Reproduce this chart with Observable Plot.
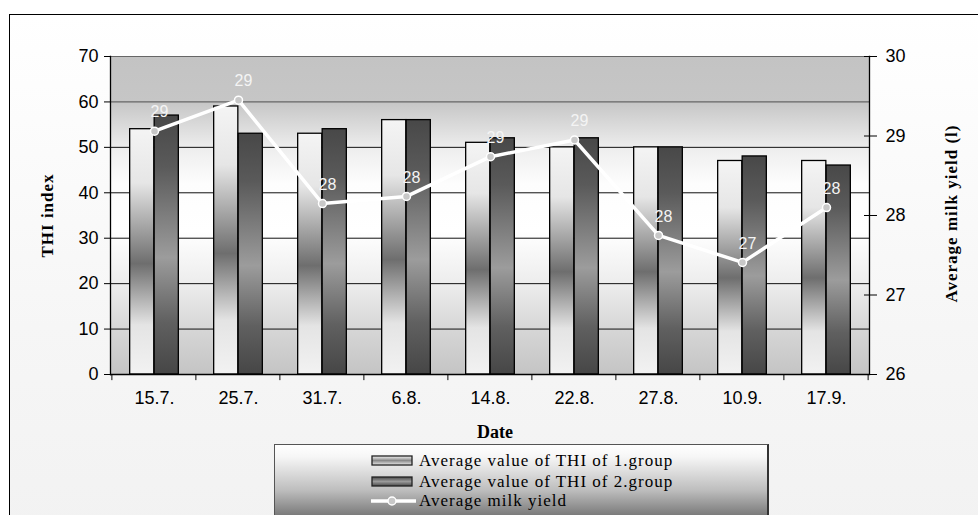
<!DOCTYPE html>
<html>
<head>
<meta charset="utf-8">
<script src="https://cdn.jsdelivr.net/npm/d3@7"></script>
<script src="https://cdn.jsdelivr.net/npm/@observablehq/plot@0.6"></script>
<style>
  html, body { margin: 0; padding: 0; background: #fff; }
  #wrap { position: relative; width: 978px; height: 515px; overflow: hidden; }
  #outer { position: absolute; left: 9px; top: 14px; width: 990px; height: 520px;
           border: 1px solid #000; background: linear-gradient(to bottom, #ffffff 0%, #f6f6f6 60%, #f2f2f2 100%); }
  #chart { position: absolute; left: 0; top: 0; }
  #legend { position: absolute; left: 274px; top: 444px; width: 492px; height: 90px;
            border: 1px solid #555; border-right: 2px solid #333;
            background: linear-gradient(to bottom, #ffffff 0px, #f6f6f6 12px, #bebebe 45px, #787878 71px, #666 90px);
            font-family: "Liberation Serif", "Times New Roman", serif; font-size: 17px; letter-spacing: 1px; color: #000; }
  .row { position: absolute; left: 96px; height: 20px; display: flex; align-items: center; white-space: nowrap; }
  .row svg { margin-right: 4px; }
</style>
</head>
<body>
<div id="wrap">
  <div id="outer"></div>
  <div id="chart"></div>
  <div id="legend">
    <div class="row" style="top:6px"><svg width="44" height="12"><rect x="1" y="1" width="40" height="9" fill="url(#lg1)" stroke="#222" stroke-width="1.3"/></svg><span>Average value of THI of 1.group</span></div>
    <div class="row" style="top:27px"><svg width="44" height="12"><rect x="1" y="1" width="40" height="9" fill="url(#lg2)" stroke="#222" stroke-width="1.3"/></svg><span>Average value of THI of 2.group</span></div>
    <div class="row" style="top:46px"><svg width="48" height="12"><line x1="0" y1="6" x2="45" y2="6" stroke="#fff" stroke-width="3.5"/><circle cx="21" cy="6" r="4" fill="#c8c8c8" stroke="#fff" stroke-width="1.5"/></svg><span style="margin-left:-4px">Average milk yield</span></div>
  </div>
</div>
<script>
const dates = ["15.7.", "25.7.", "31.7.", "6.8.", "14.8.", "22.8.", "27.8.", "10.9.", "17.9."];
const thiGroup1 = [54, 59, 53, 56, 51, 50, 50, 47, 47];
const thiGroup2 = [57, 53, 54, 56, 52, 52, 50, 48, 46];
const milkYield = [29.06, 29.45, 28.15, 28.24, 28.74, 28.95, 27.75, 27.41, 28.10];
const thiTicks = [0, 10, 20, 30, 40, 50, 60, 70];
const milkTicks = [26, 27, 28, 29, 30];

const data = dates.map((d, i) => ({date: d, g1: thiGroup1[i], g2: thiGroup2[i], milk: milkYield[i]}));

const W = 978, H = 515, mL = 110, mR = 109, mT = 56, mB = 141;
const bw = (W - mL - mR) / dates.length;
const barW = 24.5;
const side = (bw - 2 * barW) / 2;
const ms = d3.scaleLinear([26, 30], [0, 70]);
const serif = "'Liberation Serif', 'Times New Roman', serif";

function defs() {
  const d = d3.create("svg:defs");
  const grad = (id, stops) => {
    const g = d.append("linearGradient").attr("id", id).attr("x1", 0).attr("y1", 0).attr("x2", 0).attr("y2", 1);
    stops.forEach(([o, c]) => g.append("stop").attr("offset", o).attr("stop-color", c));
  };
  grad("bgGrad", [[0, "#c3c3c3"], [0.143, "#c6c6c6"], [0.29, "#eeeeee"], [0.40, "#fdfdfd"], [0.55, "#ffffff"], [0.72, "#ececec"], [0.86, "#d6d6d6"], [1, "#c4c4c4"]]);
  grad("g1Grad", [[0, "#f4f4f4"], [0.22, "#e6e6e6"], [0.55, "#6e6e6e"], [0.8, "#e4e4e4"], [1, "#f2f2f2"]]);
  grad("g2Grad", [[0, "#484848"], [0.2, "#5a5a5a"], [0.55, "#9c9c9c"], [0.8, "#606060"], [1, "#464646"]]);
  grad("lg1", [[0, "#f4f4f4"], [0.5, "#8a8a8a"], [1, "#e8e8e8"]]);
  grad("lg2", [[0, "#4a4a4a"], [0.5, "#9a9a9a"], [1, "#4a4a4a"]]);
  return d.node();
}

const chart = Plot.plot({
  width: W, height: H,
  marginLeft: mL, marginRight: mR, marginTop: mT, marginBottom: mB,
  style: {fontFamily: "'Liberation Sans', Arial, sans-serif", fontSize: "18px", color: "#000", background: "transparent", overflow: "visible"},
  x: {type: "band", domain: dates, padding: 0, label: null},
  y: {domain: [0, 70], label: null},
  marks: [
    defs,
    Plot.frame({fill: "url(#bgGrad)", stroke: null}),
    Plot.ruleY(thiTicks.filter(t => t > 0 && t < 60), {y: d => d, stroke: "#111", strokeWidth: 1}),
    Plot.ruleY(thiTicks.filter(t => t >= 60), {y: d => d, stroke: "#666", strokeWidth: 1.2}),
    Plot.barY(data, {x: "date", y: "g1", fill: "url(#g1Grad)", stroke: "#000", strokeWidth: 1.3, insetLeft: side, insetRight: bw - side - barW}),
    Plot.barY(data, {x: "date", y: "g2", fill: "url(#g2Grad)", stroke: "#000", strokeWidth: 1.3, insetLeft: side + barW, insetRight: side}),
    Plot.ruleY([0], {stroke: "#000", strokeWidth: 1.3}),
    Plot.frame({anchor: "left", stroke: "#000", strokeWidth: 1.3}),
    Plot.frame({anchor: "right", stroke: "#000", strokeWidth: 1.3}),
    // category boundary ticks below the axis
    Plot.barY(dates, {x: d => d, y1: 0, y2: -1.35, fill: "#000", insetLeft: -0.6, insetRight: bw - 0.7}),
    Plot.barY(dates.slice(-1), {x: d => d, y1: 0, y2: -1.35, fill: "#000", insetLeft: bw - 0.7, insetRight: -0.6}),
    Plot.line(data, {x: "date", y: d => ms(d.milk), stroke: "#fff", strokeWidth: 3.5}),
    Plot.dot(data, {x: "date", y: d => ms(d.milk), r: 4, fill: "#c8c8c8", stroke: "#fff", strokeWidth: 1.5}),
    Plot.text(data, {x: "date", y: d => ms(d.milk), text: d => String(Math.round(d.milk)), dx: 5, dy: -19, fill: "#f4f4f4", fontSize: 16}),
    Plot.axisY(thiTicks, {anchor: "left", tickSize: 6, tickPadding: 6, label: null, stroke: "#000", fill: "#000", fontSize: 18}),
    Plot.axisY(milkTicks.map(v => ms(v)), {anchor: "right", tickSize: 7, tickPadding: 9, tickFormat: v => String(Math.round(ms.invert(v))), label: null, stroke: "#000", fill: "#000", fontSize: 18}),
    Plot.axisY(milkTicks.map(v => ms(v)), {anchor: "right", tickSize: 6, dx: -6, tickFormat: () => "", label: null, stroke: "#000"}),
    Plot.axisX({anchor: "bottom", tickSize: 0, tickPadding: 17, label: null, fill: "#000", fontSize: 18}),
    Plot.text(["THI index"], {frameAnchor: "left", dx: -63, rotate: -90, textAnchor: "middle", lineAnchor: "middle", fontWeight: "bold", fontFamily: serif, fontSize: 17, fill: "#000"}),
    Plot.text(["Average milk yield (l)"], {frameAnchor: "right", dx: 82, dy: 87, rotate: -90, textAnchor: "start", lineAnchor: "middle", fontWeight: "bold", fontFamily: serif, fontSize: 17, fill: "#000"}),
    Plot.text(["Date"], {frameAnchor: "bottom", dx: 5, dy: 58, textAnchor: "middle", lineAnchor: "middle", fontWeight: "bold", fontFamily: serif, fontSize: 18, fill: "#000"})
  ]
});
chart.querySelectorAll("text").forEach(t => {
  if (t.textContent === "THI index" || t.textContent === "Average milk yield (l)") t.style.letterSpacing = "1px";
});
document.getElementById("chart").appendChild(chart);
</script>
</body>
</html>
